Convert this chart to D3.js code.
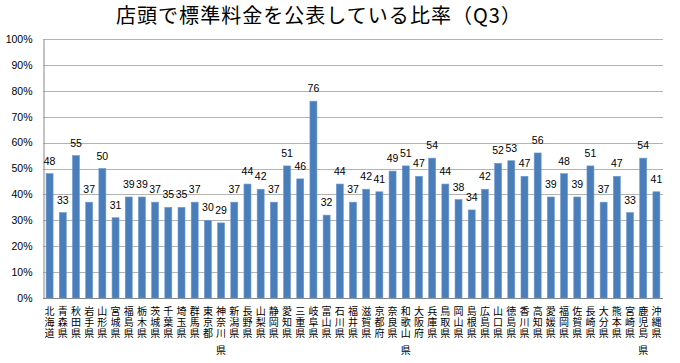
<!DOCTYPE html>
<html>
<head>
<meta charset="utf-8">
<script src="https://cdn.jsdelivr.net/npm/d3@7"></script>
<style>
  body { margin: 0; background: #fff; }
  svg { display: block; }
</style>
</head>
<body>
<div id="main"></div>
<script>
const title = '店頭で標準料金を公表している比率（Q3）';

const prefs = ['北海道','青森県','秋田県','岩手県','山形県','宮城県','福島県','栃木県','茨城県','千葉県',
  '埼玉県','群馬県','東京都','神奈川県','新潟県','長野県','山梨県','静岡県','愛知県','三重県',
  '岐阜県','富山県','石川県','福井県','滋賀県','京都府','奈良県','和歌山県','大阪府','兵庫県',
  '鳥取県','岡山県','島根県','広島県','山口県','徳島県','香川県','高知県','愛媛県','福岡県',
  '佐賀県','長崎県','大分県','熊本県','宮崎県','鹿児島県','沖縄県'];

const rates = [48,33,55,37,50,31,39,39,37,35,
  35,37,30,29,37,44,42,37,51,46,
  76,32,44,37,42,41,49,51,47,54,
  44,38,34,42,52,53,47,56,39,48,
  39,51,37,47,33,54,41];

const yTicks = [0,10,20,30,40,50,60,70,80,90,100];

const W = 680, H = 363;
const m = { top: 39, right: 17, bottom: 65, left: 43 };

const svg = d3.select('#main').append('svg')
  .attr('width', W).attr('height', H)
  .attr('viewBox', [0, 0, W, H]);

svg.append('rect').attr('width', W).attr('height', H).attr('fill', '#fff');

const x = d3.scaleBand()
  .domain(prefs)
  .range([m.left, W - m.right])
  .paddingInner(0.47)
  .paddingOuter(0.235);

const y = d3.scaleLinear()
  .domain([0, 100])
  .range([H - m.bottom, m.top]);

// gridlines
svg.append('g').selectAll('line').data(yTicks).join('line')
  .attr('x1', m.left).attr('x2', W - m.right)
  .attr('y1', d => Math.round(y(d)) + 0.5).attr('y2', d => Math.round(y(d)) + 0.5)
  .attr('stroke', d => d === 0 ? '#868686' : '#b3b3b3')
  .attr('stroke-width', 1);

// y axis
const ay = d3.axisLeft(y).tickValues(yTicks).tickSize(0).tickPadding(11)
  .tickFormat(d => d + '%');
const gy = svg.append('g')
  .attr('transform', `translate(${m.left + 0.5},0)`)
  .call(ay);
gy.select('.domain').attr('stroke', '#868686');
gy.selectAll('text')
  .attr('font-family', 'Liberation Sans, Arial, sans-serif')
  .attr('font-size', 10.5)
  .attr('fill', '#000');

// bars
svg.append('g').selectAll('rect').data(rates).join('rect')
  .attr('x', (d, i) => x(prefs[i]))
  .attr('y', d => y(d))
  .attr('width', x.bandwidth())
  .attr('height', d => y(0) - y(d))
  .attr('fill', '#4a7ebb')
  .attr('stroke', '#6f9ad0')
  .attr('stroke-width', 0.6);

// value labels
svg.append('g').selectAll('text').data(rates).join('text')
  .attr('x', (d, i) => x(prefs[i]) + x.bandwidth() / 2)
  .attr('y', d => y(d) - 9)
  .attr('text-anchor', 'middle')
  .attr('font-family', 'Liberation Sans, Arial, sans-serif')
  .attr('font-size', 10.5)
  .attr('fill', '#000')
  .text(d => d);

// category labels, stacked vertically
const rowY = [315, 326, 337, 354];
const cat = svg.append('g').selectAll('text').data(prefs).join('text')
  .attr('font-family', '"Noto Sans CJK JP", sans-serif')
  .attr('font-size', 10)
  .attr('text-anchor', 'middle')
  .attr('fill', '#000');
cat.selectAll('tspan').data(d => Array.from(d).map(c => ({ c, p: d }))).join('tspan')
  .attr('x', d => x(d.p) + x.bandwidth() / 2)
  .attr('y', (d, i) => rowY[i])
  .text(d => d.c);

// title
svg.append('text')
  .attr('x', 116).attr('y', 23)
  .attr('font-family', '"Noto Sans CJK JP", sans-serif')
  .attr('font-size', 20)
  .attr('textLength', 405)
  .attr('lengthAdjust', 'spacing')
  .attr('fill', '#000')
  .text(title);
</script>
</body>
</html>
